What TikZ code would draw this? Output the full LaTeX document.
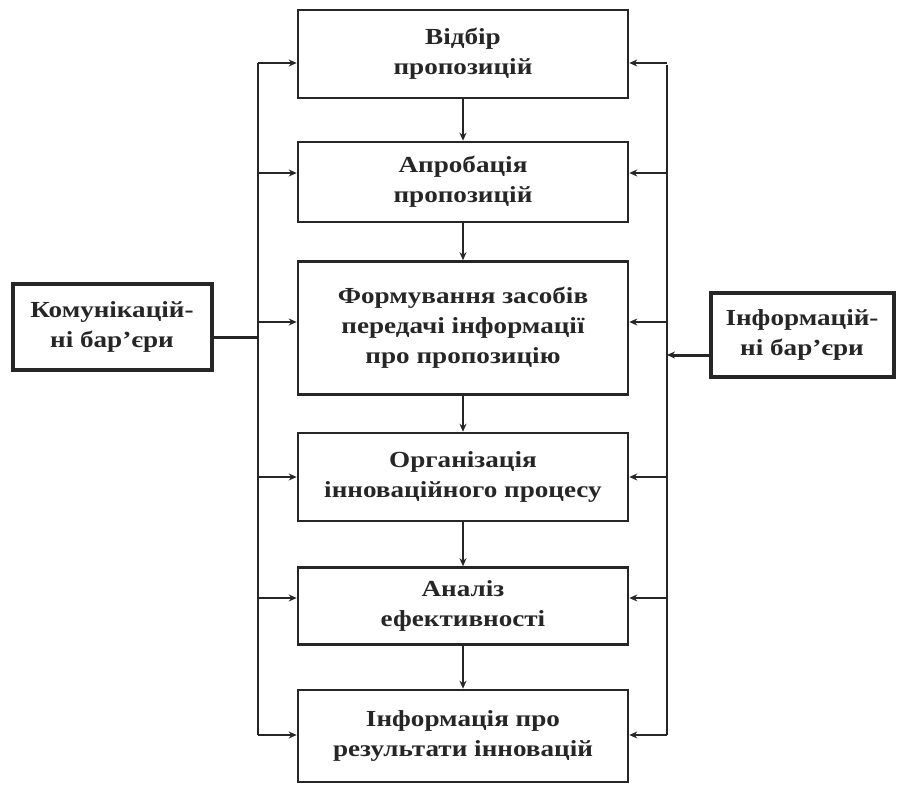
\documentclass[tikz,border=0pt]{standalone}
\usepackage{fontspec}
\setmainfont{Liberation Serif}[FakeStretch=1.18]
\usetikzlibrary{arrows.meta}
\definecolor{ink}{gray}{0.15}
\tikzset{
  box/.style={draw=ink, line width=2.6pt, minimum width=330pt, align=center, inner sep=0pt,
    font=\bfseries\fontsize{23}{30}\selectfont, text=ink},
  sidebox/.style={draw=ink, line width=4pt, align=center, inner sep=0pt,
    font=\bfseries\fontsize{23}{30}\selectfont, text=ink},
  flow/.style={draw=ink, line width=2.2pt, -{Stealth[length=8pt,width=7pt]}},
  rail/.style={draw=ink, line width=1.8pt},
  link/.style={draw=ink, line width=3pt}
}
\begin{document}
\begin{tikzpicture}[x=1pt,y=-1pt]
\useasboundingbox (0,0) rectangle (897,786);
\node[box, minimum height=88pt] (b1) at (463,54) {Відбір\\пропозицій};
\node[box, minimum height=80pt] (b2) at (463,182) {Апробація\\пропозицій};
\node[box, minimum height=133pt] (b3) at (463,328) {Формування засобів\\передачі інформації\\про пропозицію};
\node[box, minimum height=88pt] (b4) at (463,477) {Організація\\інноваційного процесу};
\node[box, minimum height=77pt] (b5) at (463,606) {Аналіз\\ефективності};
\node[box, minimum height=92pt] (b6) at (463,736) {Інформація про\\результати інновацій};
\node[sidebox, minimum width=199pt, minimum height=85pt] (lb) at (112,327) {Комунікацій-\\ні бар’єри};
\node[sidebox, minimum width=183pt, minimum height=84pt] (rb) at (802,335) {Інформацій-\\ні бар’єри};
\foreach \a/\b in {b1/b2,b2/b3,b3/b4,b4/b5,b5/b6} \draw[flow] (\a.south) -- (\b.north);
% rails
\coordinate (Ltop) at (258,63); \coordinate (Lbot) at (258,735);
\coordinate (Rtop) at (667,65); \coordinate (Rbot) at (667,735);
\draw[rail] (Ltop) -- (Lbot);
\draw[rail] (Rtop) -- (Rbot);
\foreach \n/\y in {b1/63,b2/173,b3/322,b4/477,b5/598,b6/735}{
  \coordinate (L\n) at (258,\y);
  \coordinate (R\n) at (667,\y);
  \draw[flow] (L\n) -- (L\n -| \n.west);
  \draw[flow] (R\n) -- (R\n -| \n.east);
}
\coordinate (Lj) at (258,338);
\coordinate (Rj) at (667,355);
\draw[link] (Lj -| lb.east) -- (Lj);
\draw[flow, line width=3pt] (Rj -| rb.west) -- (Rj);
\end{tikzpicture}
\end{document}
